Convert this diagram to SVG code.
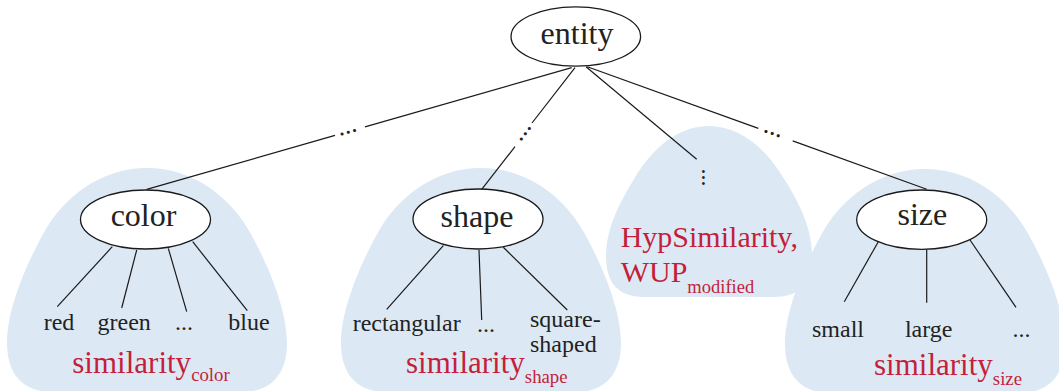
<svg xmlns="http://www.w3.org/2000/svg" width="1059" height="391" viewBox="0 0 1059 391">
  <defs>
    <!-- rounded-triangle region behind each attribute subtree (apex at 0,0) -->
    <path id="blob-lg" d="M-140,175 C-140,145 -125,105 -105,68 C-84,28 -45,0 0,0 C45,0 84,28 105,68 C125,105 140,145 140,175 C140,205 125,224 95,224 L-95,224 C-125,224 -140,205 -140,175 Z"/>
    <path id="blob-sm" d="M-103,130 C-103,100 -87,72 -70,45 C-50,15 -25,0 0,0 C25,0 50,15 70,45 C88,72 103,100 103,130 C103,158 90,171 65,171 L-65,171 C-90,171 -103,158 -103,130 Z"/>
  </defs>
  <style>
    .region { fill: #dce9f5; stroke: none; }
    .edge { stroke: #1a1a1a; stroke-width: 1.2; fill: none; }
    .node { fill: #ffffff; stroke: #1a1a1a; stroke-width: 1.3; }
    text { font-family: "Liberation Serif", "DejaVu Serif", serif; fill: #222222; }
    .lbl { font-size: 32px; text-anchor: middle; }
    .leaf { font-size: 24px; text-anchor: middle; }
    .dots { font-size: 26px; text-anchor: middle; }
    .sim { font-size: 31px; fill: #c41e3a; }
    .sub { font-size: 18.8px; }
  </style>

  <!-- shaded regions -->
  <g id="regions">
    <use href="#blob-lg" class="region" transform="translate(147,168)"/>
    <use href="#blob-lg" class="region" transform="translate(481,168)"/>
    <use href="#blob-sm" class="region" transform="translate(709,126)"/>
    <use href="#blob-lg" class="region" transform="translate(925,169)"/>
  </g>

  <!-- connectors -->
  <g id="connectors">
    <path class="edge" d="M571.7,67.7 L365,126.8 M335,135.4 L146.7,189.3"/>
    <path class="edge" d="M575,67.7 L532,123 M515,146.7 L481.7,189.3"/>
    <path class="edge" d="M586,66.7 L696.7,159.3"/>
    <path class="edge" d="M587.3,66.7 L758.3,128.4 M792.7,140.9 L926.7,189.3"/>

    <path class="edge" d="M112.3,246.7 L57.3,306.7"/>
    <path class="edge" d="M136.7,250 L121.7,308"/>
    <path class="edge" d="M168.3,248.3 L186.7,311.7"/>
    <path class="edge" d="M192.7,241.7 L247.3,310.7"/>

    <path class="edge" d="M443.3,245.7 L386.7,309.3"/>
    <path class="edge" d="M479,250 L481.7,320"/>
    <path class="edge" d="M503.3,247.3 L567.3,310"/>

    <path class="edge" d="M878.3,241.7 L844.3,301.7"/>
    <path class="edge" d="M926.7,249.3 L926.7,302.7"/>
    <path class="edge" d="M970,240 L1016,307.3"/>

    <!-- elided parts of the hierarchy -->
    <text class="dots" transform="translate(348.3,131.9) rotate(-15.9)" x="0" y="1.5">...</text>
    <text class="dots" transform="translate(525,133.5) rotate(-52.5)" x="0" y="1.5">...</text>
    <text class="dots" transform="translate(772.3,133.3) rotate(19.9)" x="0" y="1.5">...</text>
    <text class="dots" transform="translate(703.3,177.5) rotate(90)" x="0" y="1.5" style="font-size:24px">...</text>
  </g>

  <g id="node-entity">
    <ellipse class="node" cx="575.8" cy="36.5" rx="64.8" ry="29.7"/>
    <text class="lbl" x="577" y="43.5">entity</text>
  </g>

  <g id="node-color">
    <ellipse class="node" cx="145.5" cy="219.5" rx="65" ry="29.5"/>
    <text class="lbl" x="143.5" y="225.5">color</text>
  </g>
  <g id="leaf-red"><text class="leaf" x="59" y="330">red</text></g>
  <g id="leaf-green"><text class="leaf" x="124.2" y="330">green</text></g>
  <g id="leaf-color-more"><text class="leaf" x="184" y="330">...</text></g>
  <g id="leaf-blue"><text class="leaf" x="249" y="330">blue</text></g>
  <g id="measure-color"><text class="sim" x="72.3" y="372.7">similarity<tspan class="sub" dy="8.3">color</tspan></text></g>

  <g id="node-shape">
    <ellipse class="node" cx="478" cy="219" rx="65" ry="30"/>
    <text class="lbl" x="477" y="227">shape</text>
  </g>
  <g id="leaf-rectangular"><text class="leaf" x="406.7" y="330.5">rectangular</text></g>
  <g id="leaf-shape-more"><text class="leaf" x="486" y="332">...</text></g>
  <g id="leaf-square-shaped">
    <text class="leaf" style="text-anchor:start" x="530" y="326.5">square-</text>
    <text class="leaf" style="text-anchor:start" x="530" y="352">shaped</text>
  </g>
  <g id="measure-shape"><text class="sim" x="406" y="373.3">similarity<tspan class="sub" dy="9.4">shape</tspan></text></g>

  <g id="node-hyp">
    <text class="sim" style="font-size:30px" x="620.7" y="246.7">HypSimilarity,</text>
    <text class="sim" style="font-size:30px" x="620.7" y="281.7">WUP<tspan class="sub" style="font-size:18.5px" dy="11">modified</tspan></text>
  </g>

  <g id="node-size">
    <ellipse class="node" cx="921.7" cy="219.7" rx="65" ry="29.7"/>
    <text class="lbl" x="922.3" y="225">size</text>
  </g>
  <g id="leaf-small"><text class="leaf" x="838" y="336.7">small</text></g>
  <g id="leaf-large"><text class="leaf" x="928.7" y="336.7">large</text></g>
  <g id="leaf-size-more"><text class="leaf" x="1021.5" y="337">...</text></g>
  <g id="measure-size"><text class="sim" x="874" y="374.5">similarity<tspan class="sub" dy="10.8">size</tspan></text></g>
</svg>
